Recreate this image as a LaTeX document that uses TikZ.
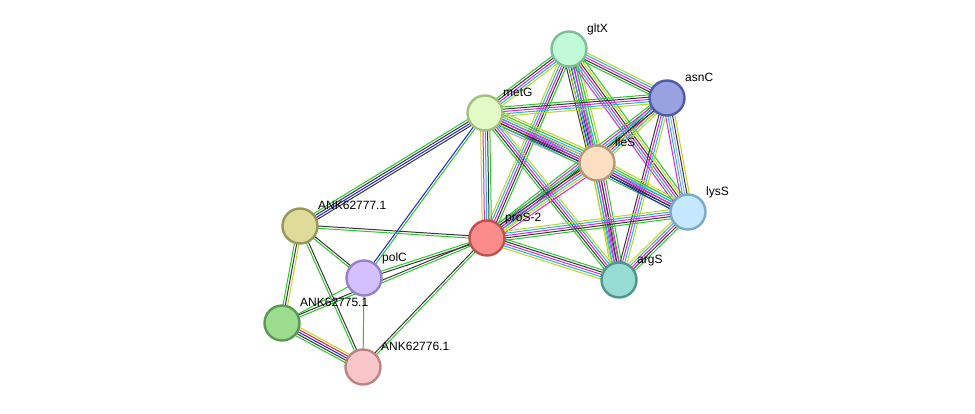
\documentclass[tikz,border=0pt]{standalone}
\usepackage{fontspec}
\setmainfont{Liberation Sans}
\usetikzlibrary{calc}
\pgfdeclarelayer{bg}
\pgfsetlayers{bg,main}
\definecolor{sgreen}{RGB}{40,200,40}
\definecolor{sred}{RGB}{240,30,30}
\definecolor{sblue}{RGB}{30,30,240}
\definecolor{stext}{RGB}{190,212,30}
\definecolor{sblack}{RGB}{55,55,55}
\definecolor{smag}{RGB}{225,30,225}
\definecolor{scyan}{RGB}{30,180,225}
\definecolor{shomo}{RGB}{160,160,250}
\tikzset{
  prot/.style={circle, minimum size=35pt, inner sep=0pt, line width=2.4pt},
  lbl/.style={anchor=base west, inner sep=0pt, font=\fontsize{12}{14}\selectfont},
}
\newcommand\sedge[3]{%
  \foreach \c [count=\i] in {#3}{\xdef\sedgen{\i}}%
  \foreach \c [count=\i] in {#3}{%
    \pgfmathsetmacro\off{(\i-(\sedgen+1)/2)*2.3}%
    \draw[draw=\c, line width=1pt] ($(#1)!\off pt!90:(#2)$) -- ($(#2)!\off pt!-90:(#1)$);
  }}
\newcommand\slabel[2]{\node[lbl] at ($(#1)+(18,-17)$) {#2};}
\begin{document}
\begin{tikzpicture}[x=1pt,y=-1pt]
\useasboundingbox (0,0) rectangle (975,413);
% nodes
\node[prot, fill={rgb,255:red,192;green,250;blue,215}, draw={rgb,255:red,125;green,190;blue,150}] (gltX) at (569,49) {};
\node[prot, fill={rgb,255:red,152;green,162;blue,225}, draw={rgb,255:red,80;green,92;blue,160}] (asnC) at (667,98) {};
\node[prot, fill={rgb,255:red,226;green,250;blue,198}, draw={rgb,255:red,162;green,192;blue,125}] (metG) at (485,113) {};
\node[prot, fill={rgb,255:red,252;green,222;blue,192}, draw={rgb,255:red,182;green,152;blue,122}] (ileS) at (597,163) {};
\node[prot, fill={rgb,255:red,196;green,232;blue,255}, draw={rgb,255:red,122;green,170;blue,200}] (lysS) at (688,212) {};
\node[prot, fill={rgb,255:red,250;green,140;blue,140}, draw={rgb,255:red,190;green,80;blue,80}] (proS) at (487,238) {};
\node[prot, fill={rgb,255:red,150;green,220;blue,210}, draw={rgb,255:red,80;green,150;blue,140}] (argS) at (619,280) {};
\node[prot, fill={rgb,255:red,222;green,220;blue,152}, draw={rgb,255:red,152;green,150;blue,92}] (a77) at (300,226) {};
\node[prot, fill={rgb,255:red,212;green,192;blue,255}, draw={rgb,255:red,150;green,130;blue,200}] (polC) at (364,278) {};
\node[prot, fill={rgb,255:red,156;green,220;blue,142}, draw={rgb,255:red,92;green,152;blue,82}] (a75) at (282,323) {};
\node[prot, fill={rgb,255:red,248;green,200;blue,200}, draw={rgb,255:red,190;green,130;blue,130}] (a76) at (363,367) {};
% edges
\begin{pgfonlayer}{bg}
\sedge{gltX}{asnC}{sgreen,sblack,smag,scyan,stext}
\sedge{gltX}{metG}{sgreen,sblack,smag,scyan,stext}
\sedge{gltX}{ileS}{sblack,sblue,sblack,smag,scyan,sgreen,stext}
\sedge{gltX}{lysS}{smag,scyan,smag,sblack,stext,sgreen}
\sedge{gltX}{proS}{stext,scyan,smag,sblack,sgreen}
\sedge{gltX}{argS}{stext,scyan,smag,sgreen}
\sedge{asnC}{metG}{sgreen,sblack,smag,scyan,stext}
\sedge{asnC}{ileS}{sgreen,sblack,smag,scyan,stext}
\sedge{asnC}{lysS}{smag,scyan,shomo,sblack,stext}
\sedge{asnC}{proS}{sgreen,smag,scyan,sblack,stext}
\sedge{asnC}{argS}{sblack,smag,scyan,stext}
\sedge{metG}{ileS}{shomo,sblue,sblack,smag,smag,scyan,sgreen,stext}
\sedge{metG}{lysS}{sgreen,sblack,smag,scyan,stext}
\sedge{metG}{proS}{stext,smag,scyan,sblack,sgreen}
\sedge{metG}{argS}{sgreen,sblack,smag,scyan,stext}
\sedge{ileS}{lysS}{sblue,sblack,smag,scyan,sgreen,stext}
\sedge{ileS}{proS}{sgreen,sblack,smag,scyan,stext,smag}
\sedge{ileS}{argS}{stext,scyan,smag,sblack,smag,sgreen}
\sedge{lysS}{proS}{stext,scyan,smag,sblack,sgreen}
\sedge{lysS}{argS}{stext,scyan,smag,sblack,sgreen}
\sedge{proS}{argS}{stext,scyan,smag,sblack,sgreen}
\sedge{metG}{a77}{sgreen,sblack,sblue,sblack}
\sedge{metG}{polC}{sblue,sgreen}
\sedge{a77}{proS}{sgreen,sblack}
\sedge{a77}{polC}{sgreen,sblack}
\sedge{a77}{a75}{sgreen,sblack,stext}
\sedge{a77}{a76}{sgreen,sblack}
\sedge{polC}{proS}{sblack,sgreen}
\sedge{a75}{proS}{sgreen,sblack}
\sedge{polC}{a75}{sgreen}
\sedge{polC}{a76}{sgreen}
\sedge{a75}{a76}{sgreen,sblack,sblue,sred,stext}
\sedge{a76}{proS}{sgreen,sblack}
\end{pgfonlayer}
% labels
\slabel{gltX}{gltX}
\slabel{asnC}{asnC}
\slabel{metG}{metG}
\slabel{ileS}{ileS}
\slabel{lysS}{lysS}
\slabel{proS}{proS-2}
\slabel{argS}{argS}
\slabel{a77}{ANK62777.1}
\slabel{polC}{polC}
\slabel{a75}{ANK62775.1}
\slabel{a76}{ANK62776.1}
\end{tikzpicture}
\end{document}
